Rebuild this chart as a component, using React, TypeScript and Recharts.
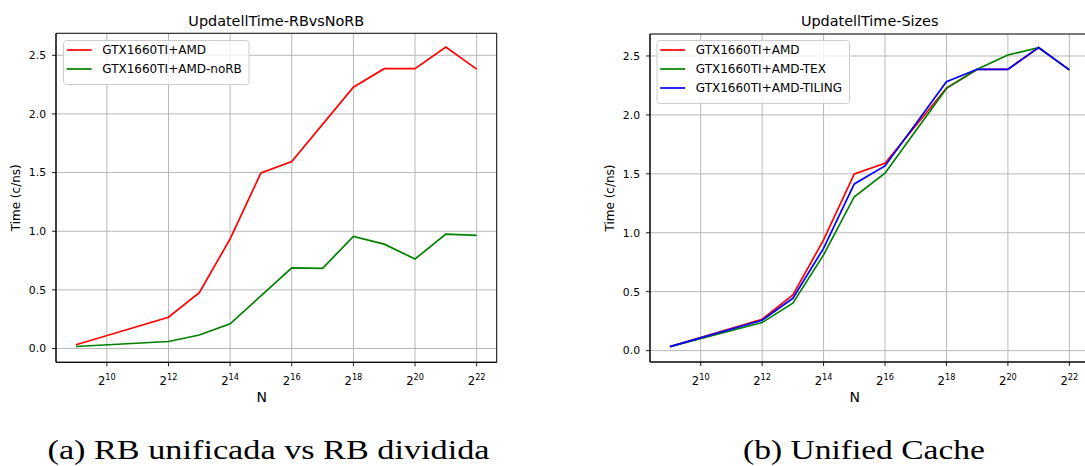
import React from 'react';
import { LineChart, Line, XAxis, YAxis, CartesianGrid, ReferenceArea } from 'recharts';

// exponents of N (N = 2^e)
const exponents = [9, 10, 11, 12, 13, 14, 15, 16, 17, 18, 19, 20, 21, 22];
const xTicks = [10, 12, 14, 16, 18, 20, 22];
const yTicks = [0, 0.5, 1.0, 1.5, 2.0, 2.5];

// Chart (a)
const amd = [0.032, null, null, 0.267, 0.476, 0.935, 1.497, 1.594, null, 2.228, 2.386, 2.386, 2.571, 2.382];
const amdNoRB = [0.017, null, null, 0.060, 0.115, 0.211, null, 0.687, 0.684, 0.955, 0.890, 0.763, 0.976, 0.965];

// Chart (b)
const amdB = [0.034, null, null, 0.266, 0.472, 0.939, 1.499, 1.590, null, 2.228, 2.386, 2.386, 2.571, 2.382];
const amdTex = [0.034, null, null, 0.238, 0.402, 0.812, 1.306, 1.505, null, 2.225, 2.387, 2.508, 2.571, 2.382];
const amdTiling = [0.034, null, null, 0.258, 0.444, 0.868, 1.414, 1.567, null, 2.282, 2.387, 2.387, 2.571, 2.382];

const dataA = exponents.map((e, i) => ({ e, amd: amd[i], noRB: amdNoRB[i] }));
const dataB = exponents.map((e, i) => ({ e, amd: amdB[i], tex: amdTex[i], tiling: amdTiling[i] }));

const FONT = '"DejaVu Sans", sans-serif';
const SERIF = '"Liberation Serif", serif';
const RED = '#ff0000';
const GREEN = '#008000';
const BLUE = '#0000ff';

const PowTick = (props: any) => {
  const { x, y, payload } = props;
  return (
    <text x={x} y={y} textAnchor="middle" fontFamily={FONT} fill="#000">
      <tspan fontSize={11.6} dy={17}>2</tspan>
      <tspan fontSize={8.2} dy={-5.2}>{payload.value}</tspan>
    </text>
  );
};

const xDomain: [number, number] = [8.35, 22.65];

function Panel(props: {
  data: any[];
  width: number;
  height: number;
  margin: any;
  yWidth: number;
  yDomain: [number, number];
  series: { key: string; color: string }[];
}) {
  const { data, width, height, margin, yWidth, yDomain, series } = props;
  return (
    <LineChart width={width} height={height} data={data} margin={margin}>
      <CartesianGrid stroke="#b0b0b0" strokeWidth={0.9} />
      <XAxis
        dataKey="e"
        type="number"
        domain={xDomain}
        ticks={xTicks}
        allowDataOverflow
        height={40}
        tickSize={4}
        tickMargin={2}
        tickLine={{ stroke: '#000', strokeWidth: 0.9 }}
        axisLine={{ stroke: '#000', strokeWidth: 0.9 }}
        tick={<PowTick />}
        interval={0}
      />
      <YAxis
        type="number"
        domain={yDomain}
        ticks={yTicks}
        allowDataOverflow
        width={yWidth}
        tickSize={4}
        tickMargin={6}
        tickLine={{ stroke: '#000', strokeWidth: 0.9 }}
        axisLine={{ stroke: '#000', strokeWidth: 0.9 }}
        tick={{ fill: '#000', fontSize: 10.8, fontFamily: FONT }}
        tickFormatter={(v: number) => v.toFixed(1)}
        interval={0}
      />
      {series.map((s) => (
        <Line
          key={s.key}
          dataKey={s.key}
          stroke={s.color}
          strokeWidth={1.7}
          dot={false}
          activeDot={false}
          connectNulls
          isAnimationActive={false}
          type="linear"
        />
      ))}
      <ReferenceArea
        x1={xDomain[0]}
        x2={xDomain[1]}
        y1={yDomain[0]}
        y2={yDomain[1]}
        fill="none"
        fillOpacity={0}
        stroke="#000"
        strokeWidth={0.9}
        ifOverflow="visible"
      />
    </LineChart>
  );
}

function LegendBox(props: { x: number; y: number; w: number; items: { label: string; color: string }[] }) {
  const { x, y, w, items } = props;
  const rowH = 19;
  const h = 3 + items.length * rowH + 3;
  return (
    <g>
      <rect x={x + 0.5} y={y + 0.5} width={w} height={h} rx={3} fill="#fff" fillOpacity={0.8} stroke="#cccccc" strokeWidth={1} />
      {items.map((it, i) => {
        const cy = y + 10 + i * rowH;
        return (
          <g key={it.label}>
            <line x1={x + 3.7} x2={x + 28.7} y1={cy} y2={cy} stroke={it.color} strokeWidth={1.7} />
            <text x={x + 39.3} y={cy + 4.3} fontFamily={FONT} fontSize={12} fill="#000">{it.label}</text>
          </g>
        );
      })}
    </g>
  );
}

export default function App() {
  return (
    <div style={{ position: 'absolute', left: 0, top: 0, width: 1085, height: 466, overflow: 'hidden', background: '#fff' }}>
      <div style={{ position: 'absolute', left: 0, top: 0 }}>
        <Panel
          data={dataA}
          width={520}
          height={420}
          margin={{ top: 33.3, right: 23.3, left: 0, bottom: 17.7 }}
          yWidth={56}
          yDomain={[-0.1175, 2.6875]}
          series={[
            { key: 'amd', color: RED },
            { key: 'noRB', color: GREEN },
          ]}
        />
      </div>
      <div style={{ position: 'absolute', left: 560, top: 0 }}>
        <Panel
          data={dataB}
          width={540}
          height={420}
          margin={{ top: 34, right: 10.7, left: 0, bottom: 18 }}
          yWidth={90}
          yDomain={[-0.0965, 2.6865]}
          series={[
            { key: 'amd', color: RED },
            { key: 'tex', color: GREEN },
            { key: 'tiling', color: BLUE },
          ]}
        />
      </div>
      <svg width={1085} height={466} style={{ position: 'absolute', left: 0, top: 0, pointerEvents: 'none' }}>
        <text x={276.3} y={25.8} textAnchor="middle" fontFamily={FONT} fontSize={14.4} fill="#000">UpdatellTime-RBvsNoRB</text>
        <text x={869.7} y={25.8} textAnchor="middle" fontFamily={FONT} fontSize={14.4} fill="#000">UpdatellTime-Sizes</text>

        <text transform="translate(19.5,197.8) rotate(-90)" textAnchor="middle" fontFamily={FONT} fontSize={12} fill="#000">Time (c/ns)</text>
        <text transform="translate(613.8,198) rotate(-90)" textAnchor="middle" fontFamily={FONT} fontSize={12} fill="#000">Time (c/ns)</text>

        <text x={261.7} y={401.7} textAnchor="middle" fontFamily={FONT} fontSize={14} fill="#000">N</text>
        <text x={854.7} y={401.7} textAnchor="middle" fontFamily={FONT} fontSize={14} fill="#000">N</text>

        <LegendBox
          x={63}
          y={40}
          w={185.5}
          items={[
            { label: 'GTX1660TI+AMD', color: RED },
            { label: 'GTX1660TI+AMD-noRB', color: GREEN },
          ]}
        />
        <LegendBox
          x={656.5}
          y={40}
          w={192.5}
          items={[
            { label: 'GTX1660TI+AMD', color: RED },
            { label: 'GTX1660TI+AMD-TEX', color: GREEN },
            { label: 'GTX1660TI+AMD-TILING', color: BLUE },
          ]}
        />

        <text x={47.5} y={459.3} fontFamily={SERIF} fontSize={27.5} fill="#000" textLength={442} lengthAdjust="spacingAndGlyphs">(a) RB unificada vs RB dividida</text>
        <text x={743} y={459.3} fontFamily={SERIF} fontSize={27.5} fill="#000" textLength={242} lengthAdjust="spacingAndGlyphs">(b) Unified Cache</text>
      </svg>
    </div>
  );
}
